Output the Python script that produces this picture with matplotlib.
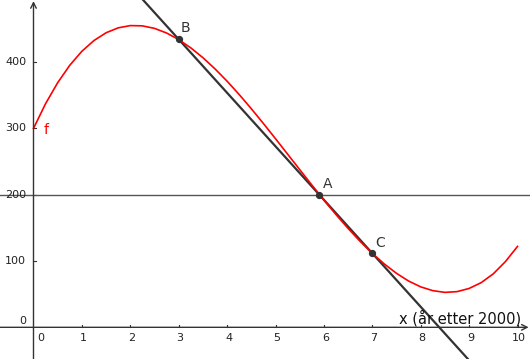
import matplotlib
matplotlib.use("Agg")
import matplotlib.pyplot as plt

# curve f (x step 0.25)
x_vals = [0, 0.25, 0.5, 0.75, 1, 1.25, 1.5, 1.75, 2, 2.25, 2.5, 2.75, 3, 3.25, 3.5, 3.75,
          4, 4.25, 4.5, 4.75, 5, 5.25, 5.5, 5.75, 6, 6.25, 6.5, 6.75, 7, 7.25, 7.5, 7.75,
          8, 8.25, 8.5, 8.75, 9, 9.25, 9.5, 9.75, 10]
f_vals = [300, 337.4, 369.0, 395.3, 416.4, 432.6, 444.3, 451.7, 455.1, 454.7, 450.9, 443.9,
          434.0, 421.5, 406.7, 389.8, 371.2, 351.1, 329.7, 307.4, 284.5, 261.2, 237.9, 214.7,
          192.0, 170.0, 149.1, 129.5, 111.5, 95.4, 81.4, 69.8, 61.0, 55.3, 52.7, 53.8, 58.6,
          67.4, 80.7, 99.1, 122.0]

# named points
pt_names = ["A", "B", "C"]
pt_x = [5.9, 3.0, 7.0]
pt_y = [200.0, 434.4, 111.6]

hline_y = 200
x_ticks = [0, 1, 2, 3, 4, 5, 6, 7, 8, 9, 10]
y_ticks = [0, 100, 200, 300, 400]
x_label = "x (år etter 2000)"

fig = plt.figure(figsize=(5.30, 3.59), dpi=100)
ax = fig.add_axes([0, 0, 1, 1])
ax.set_xlim(-0.692, 10.258)
ax.set_ylim(-47.8, 493.7)
ax.axis("off")

axc = "#333333"
# axes with arrows
ax.annotate("", xy=(10.23, 0), xytext=(-0.692, 0),
            arrowprops=dict(arrowstyle="->", color=axc, lw=1.0, shrinkA=0, shrinkB=0))
ax.annotate("", xy=(0, 492), xytext=(0, -47.8),
            arrowprops=dict(arrowstyle="->", color=axc, lw=1.0, shrinkA=0, shrinkB=0))

# ticks
for t in x_ticks[1:]:
    ax.plot([t, t], [0, 4], color=axc, lw=0.8)
    ax.text(t + 0.03, -8, str(t), ha="center", va="top", fontsize=8, color="#222222")
ax.text(0.16, -8, "0", ha="center", va="top", fontsize=8, color="#222222")
for t in y_ticks[1:]:
    if t == hline_y:
        pass
    ax.plot([0, 0.06], [t, t], color=axc, lw=0.8)
    ax.text(-0.15, t, str(t), ha="right", va="center", fontsize=8, color="#222222")
ax.text(-0.15, 9, "0", ha="right", va="center", fontsize=8, color="#222222")

ax.text(10.07, 6, x_label, ha="right", va="baseline", fontsize=10.5, color="#111111")

# horizontal line
ax.axhline(hline_y, color="#555555", lw=1.0)

# line through B and C
ax.axline((pt_x[1], pt_y[1]), (pt_x[2], pt_y[2]), color="#333333", lw=1.6)

# curve
ax.plot(x_vals, f_vals, color="#ff0000", lw=1.2)
ax.text(0.2, 297, "f", color="#ff0000", fontsize=10, ha="left", va="center")

# points
ax.scatter(pt_x, pt_y, s=18, color="#333333", zorder=5)
offs = {"A": (0.17, 16), "B": (0.14, 17), "C": (0.17, 16)}
for n, px, py in zip(pt_names, pt_x, pt_y):
    dx, dy = offs[n]
    ax.text(px + dx, py + dy, n, color="#333333", fontsize=10, ha="center", va="center")

fig.savefig("out.png", dpi=100)
